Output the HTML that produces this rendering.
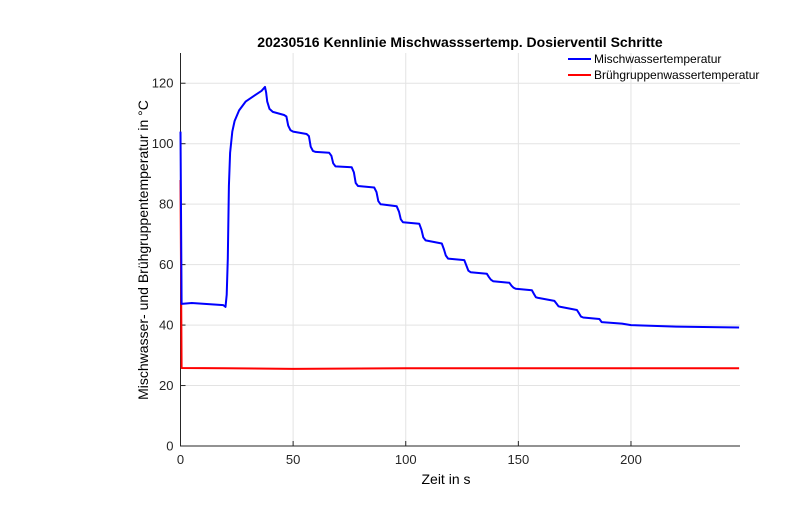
<!DOCTYPE html>
<html><head><meta charset="utf-8"><style>
body{margin:0;background:#fff;font-family:"Liberation Sans",sans-serif}
</style></head><body>
<svg width="800" height="525" xmlns="http://www.w3.org/2000/svg" font-family="Liberation Sans, sans-serif">
<g id="grid"></g>
<g id="axes"></g>
<g id="series"></g>
<text x="460" y="47" text-anchor="middle" font-size="14" font-weight="bold">20230516 Kennlinie  Mischwasssertemp. Dosierventil Schritte</text>
<text x="446" y="484" text-anchor="middle" font-size="14">Zeit in s</text>
<text transform="translate(148,250) rotate(-90)" text-anchor="middle" font-size="14">Mischwasser- und Brühgruppentemperatur in °C</text>
<g>
<g><line x1="568" y1="59" x2="591" y2="59" stroke="#0000ff" stroke-width="2"/><text x="594" y="63" font-size="12">Mischwassertemperatur</text></g>
<g><line x1="568" y1="75" x2="591" y2="75" stroke="#ff0000" stroke-width="2"/><text x="594" y="79" font-size="12">Brühgruppenwassertemperatur</text></g>
</g>
</svg>
<script>
const xTicks=[0,50,100,150,200];
const yTicks=[0,20,40,60,80,100,120];
const blueT=[0,0.5,5,19,20,20.5,21,21.5,22,23,24,26,29,33,36,37.5,38,38.5,39.5,41,46,47,47.8,48.8,50,56,57,57.8,58.8,60,66,67,67.8,68.8,76,77,77.8,78.8,86,87,87.8,88.8,96,97,97.8,98.8,106,107,107.8,108.8,116,117,117.8,118.8,126,127,127.8,128.8,136,137,137.8,138.8,146,147,147.8,148.8,156,157,157.8,158.8,166,167,167.8,168.8,176,177,177.8,178.8,186,187,196,200,220,248];
const blueV=[104,47,47.3,46.6,46,50,62,86,97,104,107.5,111,114,116,117.5,118.8,117,114,111.5,110.5,109.5,109,106,104.5,104,103.2,102.5,99,97.6,97.3,97,96,93.5,92.5,92.2,90.5,87,86,85.5,84,81,80,79.3,77.5,75,74,73.5,71.5,69,68,67,65,63,62,61.5,59.5,58,57.5,57,55.8,55,54.5,54,53,52.4,52,51.5,50.2,49.2,49,48,47,46.2,46,45,43.8,42.8,42.5,42,41,40.5,40,39.5,39.2];
const redT=[0,0.5,20,50,100,150,200,248];
const redV=[88,25.8,25.7,25.5,25.7,25.7,25.7,25.7];
const X0=180.5,X1=740,Y0=446,Y1=53,xMax=248.4,yMax=130;
const sx=v=>X0+v/xMax*(X1-X0), sy=v=>Y0-v/yMax*(Y0-Y1);
const NS="http://www.w3.org/2000/svg";
function mk(tag,attrs,parent){const e=document.createElementNS(NS,tag);for(const k in attrs)e.setAttribute(k,attrs[k]);parent.appendChild(e);return e;}
const grid=document.getElementById('grid'),axes=document.getElementById('axes'),series=document.getElementById('series');
xTicks.forEach(t=>{const l=mk('line',{x1:sx(t),x2:sx(t),y1:Y1,y2:Y0,stroke:'#e3e3e3'},grid);

const tk=mk('line',{x1:sx(t),x2:sx(t),y1:Y0,y2:Y0-5,stroke:'#262626'},axes);

const tx=mk('text',{x:sx(t),y:Y0+18,'text-anchor':'middle','font-size':13,fill:'#262626'},axes);tx.textContent=t;
});
yTicks.forEach(t=>{const l=mk('line',{x1:X0,x2:X1,y1:sy(t),y2:sy(t),stroke:'#e3e3e3'},grid);

const tk=mk('line',{x1:X0,x2:X0+5,y1:sy(t),y2:sy(t),stroke:'#262626'},axes);

const tx=mk('text',{x:X0-7,y:sy(t)+4.5,'text-anchor':'end','font-size':13,fill:'#262626'},axes);tx.textContent=t;
});
const ax=mk('path',{d:`M${X0},${Y1}V${Y0}H${X1}`,stroke:'#262626',fill:'none'},axes);

function line(T,V,c,name){const d=T.map((t,i)=>(i?'L':'M')+sx(t).toFixed(1)+','+sy(V[i]).toFixed(1)).join('');
const p=mk('path',{d:d,stroke:c,'stroke-width':2,fill:'none','stroke-linejoin':'round'},series);
}
line(redT,redV,'#ff0000','bruehgruppe-line');
line(blueT,blueV,'#0000ff','mischwasser-line');
</script>
</body></html>
